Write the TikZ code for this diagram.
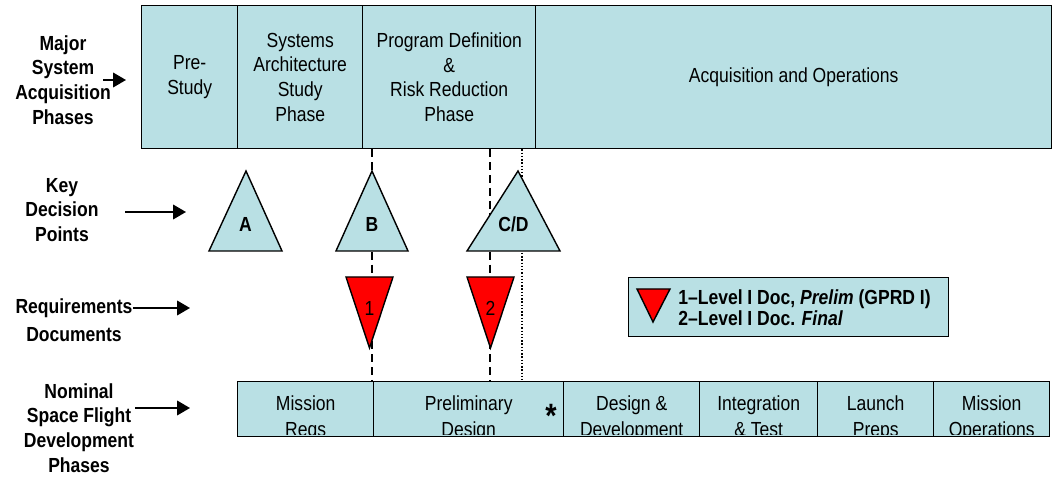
\documentclass[tikz,border=0pt]{standalone}
\usepackage{fontspec}
\setmainfont{Liberation Sans}[FakeStretch=0.86]
\usetikzlibrary{arrows.meta}
\definecolor{phasefill}{RGB}{185,224,228}

% up triangle for a decision point: name, apex x, base left, base right, label
\newcommand{\keypoint}[5]{
    \draw[kdp] (#2,171) -- (#4,251) -- (#3,251) -- cycle;
    \node[kdplabel] (#1) at ({(#3+#4)/2},224) {#5};
}
% down triangle for a requirements document: name, left, right, label
\newcommand{\reqdoc}[4]{
    \draw[doctri] (#2,277) -- (#3,277) -- ({(#2+#3)/2},348) -- cycle;
    \node (#1) at ({(#2+#3)/2},308) {#4};
}

\begin{document}
\begin{tikzpicture}[x=0.025cm,y=-0.025cm,every node/.style={font=\fontsize{14.5}{17.5}\selectfont,inner sep=0pt}]

\tikzstyle{phase}=[draw,fill=phasefill,line width=1pt,align=center,anchor=north west]
\tikzstyle{rowlabel}=[font=\fontsize{14.5}{17.5}\selectfont\bfseries,align=center]
\tikzstyle{pointer}=[line width=1.4pt,-{Triangle[length=0.32cm,width=0.36cm]}]
\tikzstyle{kdp}=[draw,fill=phasefill,line width=1pt,line join=miter]
\tikzstyle{kdplabel}=[font=\fontsize{14.5}{17.5}\selectfont\bfseries]
\tikzstyle{doctri}=[draw,fill=red,line width=1pt]
\tikzstyle{gate}=[line width=1.5pt,dash pattern=on 0.2cm off 0.12cm]
\tikzstyle{dotgate}=[line width=1pt,dash pattern=on 1pt off 1.3pt]

\useasboundingbox (0,0) rectangle (1057,477);

% major system acquisition phases
\foreach \name/\l/\r/\txt in {prestudy/141/237/{Pre-\\Study},
    sysarch/237/362/{Systems\\Architecture\\Study\\Phase},
    progdef/362/535/{Program Definition\\\&\\Risk Reduction\\Phase},
    acqops/535/1051/{Acquisition and Operations}}
    \node[phase,minimum width={(\r-\l)*0.025cm},minimum height=143*0.025cm] (\name) at (\l,5) {\txt};

% nominal space flight development phases
\foreach \name/\l/\r in {missionreqs/237/373, prelim/373/563, designdev/563/699,
    inttest/699/817, launch/817/933, missionops/933/1049}
    \node[phase,minimum width={(\r-\l)*0.025cm},minimum height=55*0.025cm] (\name) at (\l,381) {};
\begin{scope}
\clip (237,381) rectangle (1049,435);
\foreach \name/\txt in {missionreqs/{Mission\\Reqs}, prelim/{Preliminary\\Design},
    designdev/{Design \&\\Development}, inttest/{Integration\\\& Test},
    launch/{Launch\\Preps}, missionops/{Mission\\Operations}}
    \node[align=center,anchor=north,font=\fontsize{14.5}{18.6}\selectfont] at (\name.center |- 0,395) {\txt};
\end{scope}
\node (star) at (551,416) {\fontsize{24}{24}\selectfont\bfseries *};

% gates
\coordinate (cdgate) at (522,0);
\draw[dotgate] (progdef.south -| cdgate) -- (prelim.north -| cdgate);
\draw[gate] (progdef.south -| 372,0) -- (missionreqs.north -| 372,0);
\draw[gate] (progdef.south -| 490,0) -- (prelim.north -| 490,0);

% decision points and documents
\keypoint{kdpA}{246}{209}{282}{A}
\keypoint{kdpB}{372}{336}{408}{B}
\keypoint{kdpCD}{518}{467}{560}{C/D}
\reqdoc{req1}{346}{393}{1}
\reqdoc{req2}{467}{514}{2}

% legend
\node[phase,minimum width=320*0.025cm,minimum height=59*0.025cm] (legend) at (628,277) {};
\draw[doctri] (637,289) -- (670,289) -- (653,322) -- cycle;
\node[anchor=west,align=left,font=\fontsize{14.5}{15}\selectfont\bfseries] (legendtext) at (678,308)
    {1--Level I Doc, \textit{Prelim} (GPRD I)\\2--Level I Doc. \textit{Final}};

% row labels
\node[rowlabel] (majorlbl) at (63,80) {Major\\System\\Acquisition\\Phases};
\node[rowlabel] (kdplbl) at (62,210) {Key\\Decision\\Points};
\node[rowlabel,font=\fontsize{14.5}{19.8}\selectfont\bfseries] (reqlbl) at (74,320) {Requirements\\Documents};
\node[rowlabel] (nomlbl) at (79,428) {Nominal\\Space Flight\\Development\\Phases};

% arrows
\coordinate (majortail) at (103,80);   \coordinate (majortip) at (126,80);
\coordinate (kdptail) at (125,212);    \coordinate (kdptip) at (186,212);
\coordinate (reqtail) at (133,308);    \coordinate (reqtip) at (190,308);
\coordinate (nomtail) at (135,408);    \coordinate (nomtip) at (190,408);
\foreach \a in {major,kdp,req,nom}
    \draw[pointer] (\a tail) -- (\a tip);
\end{tikzpicture}
\end{document}
